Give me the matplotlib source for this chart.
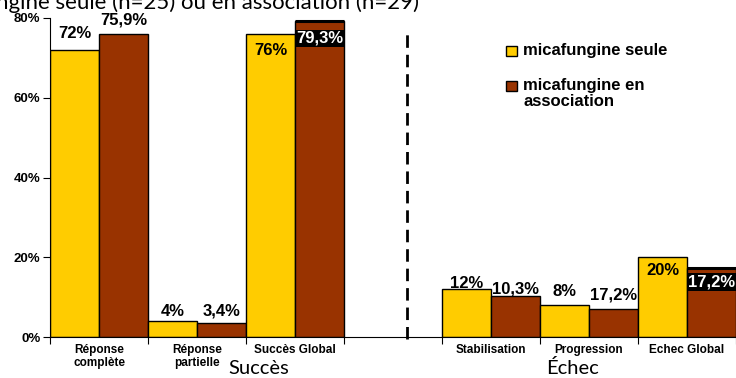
import matplotlib
matplotlib.use("Agg")
import matplotlib.pyplot as plt
from matplotlib.patches import Rectangle

# data
categories = ["Réponse\ncomplète", "Réponse\npartielle", "Succès Global", "",
              "Stabilisation", "Progression", "Echec Global"]
seule = [72, 4, 76, None, 12, 8, 20]
association = [75.9, 3.4, 79.3, None, 10.3, 6.9, 17.2]
labels_seule = ["72%", "4%", "76%", "", "12%", "8%", "20%"]
labels_assoc = ["75,9%", "3,4%", "79,3%", "", "10,3%", "17,2%", "17,2%"]
y_ticks = [0, 20, 40, 60, 80]
groups = ["Succès", "Échec"]
series_names = ["micafungine seule", "micafungine en\nassociation"]

# label offsets (in % units) and which labels sit in a black box
off_seule = [4.2, 2.5, -4.1, 0, 1.5, 3.3, -3.2]
off_assoc = [3.5, 3.1, -4.4, 0, 1.7, 3.6, -3.4]
boxed_assoc = [False, False, True, False, False, False, True]

plt.rcParams['font.family'] = ['Liberation Sans', 'DejaVu Sans']

yellow = "#FFCC00"
brown = "#993300"

W, H = 736, 378
fig = plt.figure(figsize=(W / 100, H / 100), dpi=100)
ax = fig.add_axes([50 / W, 41 / H, 686 / W, 319 / H])

w = 0.5
for i in range(len(categories)):
    if seule[i] is None:
        continue
    ax.bar(i, seule[i], width=w, align='edge', color=yellow, edgecolor='black', linewidth=1)
    ax.bar(i + w, association[i], width=w, align='edge', color=brown, edgecolor='black', linewidth=1)
    ax.text(i + w / 2, seule[i] + off_seule[i], labels_seule[i], ha='center', va='center',
            fontsize=12, fontweight='bold', color='black')
    if boxed_assoc[i]:
        # thicker dark top edge on these bars
        ax.plot([i + w, i + 1], [association[i], association[i]], color='black', lw=2.2,
                solid_capstyle='butt')
        ax.text(i + 1.5 * w, association[i] + off_assoc[i], labels_assoc[i], ha='center', va='center',
                fontsize=12, fontweight='bold', color='white',
                bbox=dict(facecolor='black', edgecolor='none', pad=1))
    else:
        ax.text(i + 1.5 * w, association[i] + off_assoc[i], labels_assoc[i], ha='center', va='center',
                fontsize=12, fontweight='bold', color='black')

# separator between success and failure
ax.plot([3.64, 3.64], [-0.5, 77], ls=(0, (4.5, 2.5)), color='black', lw=2, clip_on=False)

ax.set_xlim(0, 7)
ax.set_ylim(0, 80)
ax.set_yticks(y_ticks)
ax.set_yticklabels([f"{t}%" for t in y_ticks], fontsize=9.5, fontweight='bold')
ax.set_xticks(range(8))
ax.set_xticklabels([])
ax.set_xticks([i + 0.5 for i in range(7)], minor=True)
ax.set_xticklabels(categories, minor=True, fontsize=8.5, fontweight='bold', va='top',
                   linespacing=1.1)
ax.tick_params(axis='x', which='major', length=5, direction='out')
ax.tick_params(axis='x', which='minor', length=0, pad=5)
ax.tick_params(axis='y', length=5, pad=2)
ax.spines['top'].set_visible(False)
ax.spines['right'].set_visible(False)

# group labels
fig.text(259 / W, 1 - 368 / H, groups[0], ha='center', va='center', fontsize=14.5, family='Lato')
fig.text(573 / W, 1 - 368 / H, groups[1], ha='center', va='center', fontsize=14.5, family='Lato')

# title cut off at the top of the image
fig.text(-0.006, 1 - 9 / H, "ngine seule (n=25) ou en association (n=29)", ha='left',
         va='baseline', fontsize=16, family='Lato')

# legend drawn by hand to place it like the original
for k, (col, name) in enumerate(zip([yellow, brown], series_names)):
    top = 46 + k * 35
    fig.add_artist(Rectangle((506 / W, 1 - (top + 10) / H), 11 / W, 10 / H,
                             transform=fig.transFigure, facecolor=col, edgecolor='black', lw=1))
    fig.text(523 / W, 1 - (top - 3) / H, name, ha='left', va='top', fontsize=12,
             fontweight='bold', linespacing=1.05)

fig.savefig("out.png", dpi=100)
